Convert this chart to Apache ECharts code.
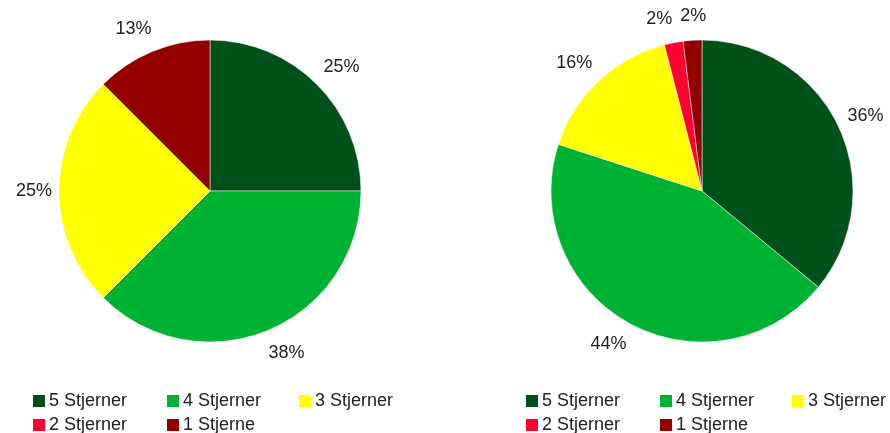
<!DOCTYPE html>
<html>
<head>
<meta charset="utf-8">
<script src="https://cdn.jsdelivr.net/npm/echarts@6/dist/echarts.min.js"></script>
<style>
html,body{margin:0;padding:0;background:#fff;}
#main{width:890px;height:433px;}
</style>
</head>
<body>
<div id="main"></div>
<script>
const categories = ['5 Stjerner', '4 Stjerner', '3 Stjerner', '2 Stjerner', '1 Stjerne'];
const colors = ['#00501a', '#00b233', '#ffff00', '#ff0033', '#940000'];
const leftValues = [2, 3, 2, 0, 1];
const rightValues = [18, 22, 8, 1, 1];

const FONT = 'Liberation Sans';
const TEXT = '#222';
const R = 151;
const centers = [[210, 191], [702, 191]];
const valueSets = [leftValues, rightValues];
const legendCols = [[31, 165, 297], [524, 658, 790]];
const legendRows = [391, 415];

function midDir(vals, i) {
  const total = vals.reduce((a, b) => a + b, 0);
  let before = 0;
  for (let k = 0; k < i; k++) before += vals[k];
  const a = (before + vals[i] / 2) / total * Math.PI * 2;
  return [Math.sin(a), -Math.cos(a)];
}

// label anchor positions around each pie, with a simple left-to-right overlap push
function labelPositions(idx) {
  const vals = valueSets[idx];
  const c = centers[idx];
  const total = vals.reduce((a, b) => a + b, 0);
  const pos = vals.map((v, i) => {
    const d = midDir(vals, i);
    const sx = d[0] < 0 ? -1 : 1;
    const txt = Math.round(v / total * 100) + '%';
    return {
      x: c[0] + d[0] * 176 + sx * 10 * Math.abs(d[1]),
      y: c[1] + d[1] * 175,
      w: txt.length * 10 + 2,
      show: v > 0
    };
  });
  for (let i = 1; i < pos.length; i++) {
    for (let j = 0; j < i; j++) {
      const a = pos[j], b = pos[i];
      if (!a.show || !b.show) continue;
      if (Math.abs(a.y - b.y) < 18) {
        const need = (a.w + b.w) / 2 + 12;
        if (b.x >= a.x - 1 && b.x - a.x < need) b.x = a.x + need;
      }
    }
  }
  return pos;
}
const labelPos = [labelPositions(0), labelPositions(1)];

function makeSeries(idx) {
  const vals = valueSets[idx];
  return {
    type: 'pie',
    center: centers[idx],
    radius: R,
    startAngle: 90,
    clockwise: true,
    avoidLabelOverlap: false,
    percentPrecision: 2,
    itemStyle: { borderColor: '#ffffff', borderWidth: 0.5 },
    data: categories.map((c, i) => ({ name: c, value: vals[i], itemStyle: { color: colors[i] } })),
    label: {
      show: true,
      position: 'outside',
      fontFamily: FONT,
      fontSize: 18,
      color: TEXT,
      formatter: p => p.value === 0 ? '' : Math.round(p.percent) + '%'
    },
    labelLine: { show: false, length: 10, length2: 0 },
    labelLayout: function (params) {
      const p = labelPos[idx][params.dataIndex];
      return {
        x: p.x,
        y: p.y,
        align: 'center',
        verticalAlign: 'middle',
        hideOverlap: false
      };
    },
    emphasis: { disabled: true }
  };
}

const legends = [];
for (let p = 0; p < 2; p++) {
  categories.forEach((c, i) => {
    legends.push({
      data: [c],
      left: legendCols[p][i % 3],
      top: legendRows[Math.floor(i / 3)],
      orient: 'horizontal',
      icon: 'rect',
      itemWidth: 14,
      itemHeight: 14,
      itemGap: 0,
      padding: 0,
      selectedMode: false,
      textStyle: { fontFamily: FONT, fontSize: 18, color: TEXT, lineHeight: 20, padding: [0, 0, 0, -2] }
    });
  });
}

const chart = echarts.init(document.getElementById('main'), null, { renderer: 'canvas' });
chart.setOption({
  backgroundColor: '#ffffff',
  animation: false,
  legend: legends,
  series: [makeSeries(0), makeSeries(1)]
});
</script>
</body>
</html>
